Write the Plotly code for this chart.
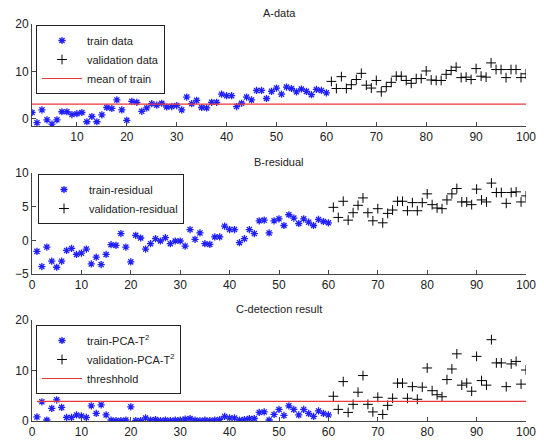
import plotly.graph_objects as go

# ---------------- data ----------------
x_train = list(range(1, 61))
x_val = list(range(61, 101))

a_train = [1.35, -0.8, 1.9, -0.2, -1.1, -0.2, 1.5, 1.5, 0.9, 1.1,
           1.35, -0.6, 0.5, -0.6, 0.85, 2.4, 2.2, 4.0, 1.9, -0.3,
           3.7, 3.5, 1.6, 2.3, 3.2, 2.9, 3.3, 2.5, 2.6, 2.8,
           1.9, 4.6, 3.2, 3.9, 2.4, 2.3, 3.5, 3.5, 5.2, 4.9,
           4.9, 2.6, 3.3, 4.6, 4.0, 6.0, 6.0, 4.3, 5.8, 6.5,
           5.2, 6.7, 6.4, 5.7, 6.3, 5.8, 5.1, 6.2, 6.0, 5.5]
a_val = [7.9, 6.4, 8.9, 6.4, 7.2, 8.3, 9.6, 7.1, 6.5, 8.1,
         5.7, 6.8, 7.7, 9.0, 9.0, 8.1, 7.5, 8.5, 8.5, 10.1,
         8.2, 8.1, 8.1, 9.4, 10.2, 10.9, 8.7, 8.8, 8.3, 10.6,
         9.0, 8.8, 11.8, 10.4, 10.4, 8.7, 10.4, 10.4, 8.7, 9.5]
mean_train = 3.1

b_train = [-1.64, -3.9, -1.0, -3.1, -4.0, -3.1, -1.5, -1.2, -2.1, -1.9,
           -1.3, -3.5, -2.5, -3.6, -2.1, -0.65, -0.75, 1.0, -1.0, -3.2,
           0.75, 0.35, -1.3, -0.5, 0.25, -0.1, 0.4, -0.5, -0.1, -0.1,
           -0.85, 1.6, 0.15, 1.1, -0.5, -0.6, 0.5, 0.5, 2.1, 1.6,
           1.6, -0.35, 0.25, 1.6, 1.0, 2.9, 3.0, 1.1, 2.9, 3.2,
           2.2, 3.8, 3.3, 2.5, 3.2, 2.7, 2.2, 3.1, 2.8, 2.6]
b_val = [4.9, 3.4, 5.8, 3.0, 4.1, 5.2, 6.3, 4.1, 2.9, 4.7,
         2.6, 4.0, 4.5, 5.8, 5.8, 4.4, 5.6, 4.4, 5.6, 6.9,
         5.3, 4.8, 4.7, 6.0, 6.9, 7.7, 5.7, 5.7, 5.3, 7.6,
         6.0, 5.7, 8.5, 7.1, 7.1, 5.5, 7.1, 7.2, 5.7, 6.6]

c_train = [0.8, 3.8, 0.2, 2.5, 4.2, 2.7, 0.7, 0.7, 1.2, 1.0,
           0.7, 3.0, 1.5, 3.2, 1.2, 0.2, 0.1, 0.1, 0.2, 2.8,
           0.1, 0.1, 0.6, 0.2, 0.3, 0.1, 0.2, 0.1, 0.2, 0.2,
           0.4, 0.5, 0.2, 0.1, 0.2, 0.1, 0.2, 0.3, 0.9, 0.6,
           0.6, 0.2, 0.3, 0.5, 0.5, 1.7, 1.8, 0.2, 1.3, 2.3,
           1.1, 3.0, 2.3, 1.2, 2.3, 1.5, 0.9, 2.0, 1.5, 1.2]
c_val = [4.9, 2.3, 7.8, 1.7, 3.3, 5.7, 9.0, 3.3, 1.8, 4.7,
         1.3, 3.1, 4.5, 7.5, 7.5, 4.5, 6.8, 4.3, 6.7, 10.5,
         6.0, 5.2, 4.8, 8.2, 10.3, 13.3, 7.1, 7.5, 5.9, 12.8,
         8.0, 7.1, 16.1, 11.5, 11.5, 6.8, 11.3, 11.8, 7.3, 10.1]
threshold = 3.9

titles = ["A-data", "B-residual", "C-detection result"]
xticks_a = [10, 20, 30, 40, 50, 60, 70, 80, 90, 100]
xticks_bc = [0, 10, 20, 30, 40, 50, 60, 70, 80, 90, 100]
yticks_a = [0, 10, 20]
yticks_b = [-5, 0, 5, 10]
yticks_c = [0, 10, 20]

# ---------------- styling ----------------
W, H = 544, 441
OFF = 8  # page body margin offset of the plot div
FONT = "Liberation Sans, Arial, sans-serif"
TXT = "#222222"
BLUE = "#1f1fff"
RED = "#e8393a"
AXC = "#444444"

def px_x(p):
    return (p - OFF) / W

def px_y(p):
    return 1 - (p - OFF) / H

star = dict(symbol="asterisk-open", size=6, line=dict(color=BLUE, width=1.3), color=BLUE)
plus = dict(symbol="cross-thin-open", size=7, line=dict(color="black", width=1), color="black")

fig = go.Figure()

x_all = x_train + x_val

# Panel A
fig.add_trace(go.Scatter(x=x_train, y=a_train, mode="markers", marker=star, name="train data",
                         xaxis="x", yaxis="y", legend="legend"))
fig.add_trace(go.Scatter(x=x_val, y=a_val, mode="markers", marker=plus, name="validation data",
                         xaxis="x", yaxis="y", legend="legend"))
fig.add_trace(go.Scatter(x=[x_all[0], x_all[-1]], y=[mean_train, mean_train], mode="lines",
                         line=dict(color=RED, width=1.2), name="mean of train",
                         xaxis="x", yaxis="y", legend="legend"))

# Panel B
fig.add_trace(go.Scatter(x=x_train, y=b_train, mode="markers", marker=star, name="train-residual",
                         xaxis="x2", yaxis="y2", legend="legend2"))
fig.add_trace(go.Scatter(x=x_val, y=b_val, mode="markers", marker=plus, name="validation-residual",
                         xaxis="x2", yaxis="y2", legend="legend2"))

# Panel C
fig.add_trace(go.Scatter(x=x_train, y=c_train, mode="markers", marker=star, name="train-PCA-T<sup>2</sup>",
                         xaxis="x3", yaxis="y3", legend="legend3"))
fig.add_trace(go.Scatter(x=x_val, y=c_val, mode="markers", marker=plus, name="validation-PCA-T<sup>2</sup>",
                         xaxis="x3", yaxis="y3", legend="legend3"))
fig.add_trace(go.Scatter(x=[x_all[0], x_all[-1]], y=[threshold, threshold], mode="lines",
                         line=dict(color=RED, width=1.2), name="threshhold",
                         xaxis="x3", yaxis="y3", legend="legend3"))

dom_x = [px_x(32), px_x(526)]
panels = [(24, 126), (173, 274), (320, 421)]

def xax(rng, ticks, anchor):
    return dict(domain=dom_x, range=rng, tickvals=ticks, showline=True, linecolor=AXC, linewidth=1,
                ticks="inside", ticklen=4, tickcolor=AXC, showgrid=False, zeroline=False,
                mirror=False, anchor=anchor, automargin=False,
                tickfont=dict(size=12, color=TXT, family=FONT))

def yax(rng, ticks, dom, anchor):
    return dict(domain=dom, range=rng, tickvals=ticks, showline=True, linecolor=AXC, linewidth=1,
                ticks="inside", ticklen=4, tickcolor=AXC, showgrid=False, zeroline=False,
                mirror=False, anchor=anchor, automargin=False,
                tickfont=dict(size=12, color=TXT, family=FONT))

def leg(xp, yp):
    return dict(x=px_x(xp), y=px_y(yp), xanchor="left", yanchor="top", bgcolor="white",
                bordercolor="#222222", borderwidth=1, font=dict(size=11, color=TXT, family=FONT),
                tracegroupgap=0, itemwidth=40)

annots = []
for t, (top, bot) in zip(titles, panels):
    annots.append(dict(text=t, x=0.5 * (dom_x[0] + dom_x[1]), y=px_y(top - 3), xref="paper", yref="paper",
                       xanchor="center", yanchor="bottom", showarrow=False,
                       font=dict(size=11, color=TXT, family=FONT)))

fig.update_layout(
    width=W, height=H, margin=dict(l=0, r=0, t=0, b=0, pad=0, autoexpand=False),
    paper_bgcolor="white", plot_bgcolor="white",
    font=dict(family=FONT, size=11, color=TXT),
    xaxis=xax([1, 100], xticks_a, "y"),
    yaxis=yax([-1.5, 20], yticks_a, [px_y(126), px_y(24)], "x"),
    xaxis2=xax([0, 100], xticks_bc, "y2"),
    yaxis2=yax([-5, 10], yticks_b, [px_y(274), px_y(173)], "x2"),
    xaxis3=xax([0, 100], xticks_bc, "y3"),
    yaxis3=yax([0, 20], yticks_c, [px_y(421), px_y(320)], "x3"),
    legend=leg(36, 25),
    legend2=leg(38, 174),
    legend3=leg(36, 325),
    annotations=annots,
    showlegend=True,
)

fig.write_html("out.html")
